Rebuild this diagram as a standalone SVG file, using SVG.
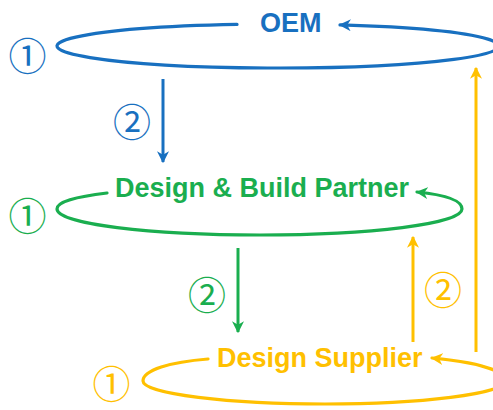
<svg xmlns="http://www.w3.org/2000/svg" width="493" height="410" viewBox="0 0 493 410">
  <style>
    .loop { fill: none; stroke-width: 3.2; stroke-linecap: round; }
    .link { fill: none; stroke-width: 3; }
    .label { font-family: "Liberation Sans", Arial, sans-serif; font-weight: bold; font-size: 27px; }
    .num { font-family: "Noto Sans CJK JP", "DejaVu Sans", sans-serif; font-size: 38px; text-anchor: middle; dominant-baseline: central; }
    .blue { stroke: #1870C0; fill: #1870C0; }
    .green { stroke: #1AAE4F; fill: #1AAE4F; }
    .gold { stroke: #FFC000; fill: #FFC000; }
    text.blue, text.green, text.gold { stroke: none; }
  </style>
  <defs>
    <marker id="head-blue" viewBox="0 0 10 10" refX="9" refY="5" markerUnits="userSpaceOnUse" markerWidth="12" markerHeight="12" orient="auto">
      <path d="M0,0 L10,5 L0,10 L3,5 z" fill="#1870C0"/>
    </marker>
    <marker id="head-green" viewBox="0 0 10 10" refX="9" refY="5" markerUnits="userSpaceOnUse" markerWidth="12" markerHeight="12" orient="auto">
      <path d="M0,0 L10,5 L0,10 L3,5 z" fill="#1AAE4F"/>
    </marker>
    <marker id="head-gold" viewBox="0 0 10 10" refX="9" refY="5" markerUnits="userSpaceOnUse" markerWidth="12" markerHeight="12" orient="auto">
      <path d="M0,0 L10,5 L0,10 L3,5 z" fill="#FFC000"/>
    </marker>
  </defs>

  <rect width="493" height="410" fill="#FFFFFF"/>

  <!-- OEM level -->
  <g id="oem">
    <path class="loop blue" style="fill:none" d="M237,24.4 A221,22 0 1,0 340,24.9" marker-end="url(#head-blue)"/>
    <text class="label blue" x="260" y="32" font-size="28">OEM</text>
    <text class="num blue" x="27.5" y="53">①</text>
  </g>

  <!-- Design & Build Partner level -->
  <g id="partner">
    <path class="loop green" style="fill:none" d="M107,193 C75,197 57,202 57,209 C57,224 150,235 260,235 C370,235 462,224 462,209 C462,201 447,195 417,192" marker-end="url(#head-green)"/>
    <text class="label green" x="115" y="197">Design &amp; Build Partner</text>
    <text class="num green" x="27.5" y="213">①</text>
  </g>

  <!-- Design Supplier level -->
  <g id="supplier">
    <path class="loop gold" style="fill:none" d="M208,359 C170,362 143,370 143,381 C143,394 230,404 325,404 C420,404 505,394 505,381 C505,370 475,362 432,358" marker-end="url(#head-gold)"/>
    <text class="label gold" x="217" y="367">Design Supplier</text>
    <text class="num gold" x="111.5" y="381">①</text>
  </g>

  <!-- connectors between levels -->
  <g id="connectors">
    <line class="link blue" x1="163" y1="79" x2="163" y2="162" marker-end="url(#head-blue)"/>
    <text class="num blue" x="132" y="119">②</text>
    <line class="link green" x1="238" y1="248" x2="238" y2="332" marker-end="url(#head-green)"/>
    <text class="num green" x="207" y="292">②</text>
    <line class="link gold" x1="413" y1="342" x2="413" y2="237" marker-end="url(#head-gold)"/>
    <text class="num gold" x="443" y="287">②</text>
    <line class="link gold" x1="476" y1="352" x2="476" y2="68" marker-end="url(#head-gold)"/>
  </g>
</svg>
